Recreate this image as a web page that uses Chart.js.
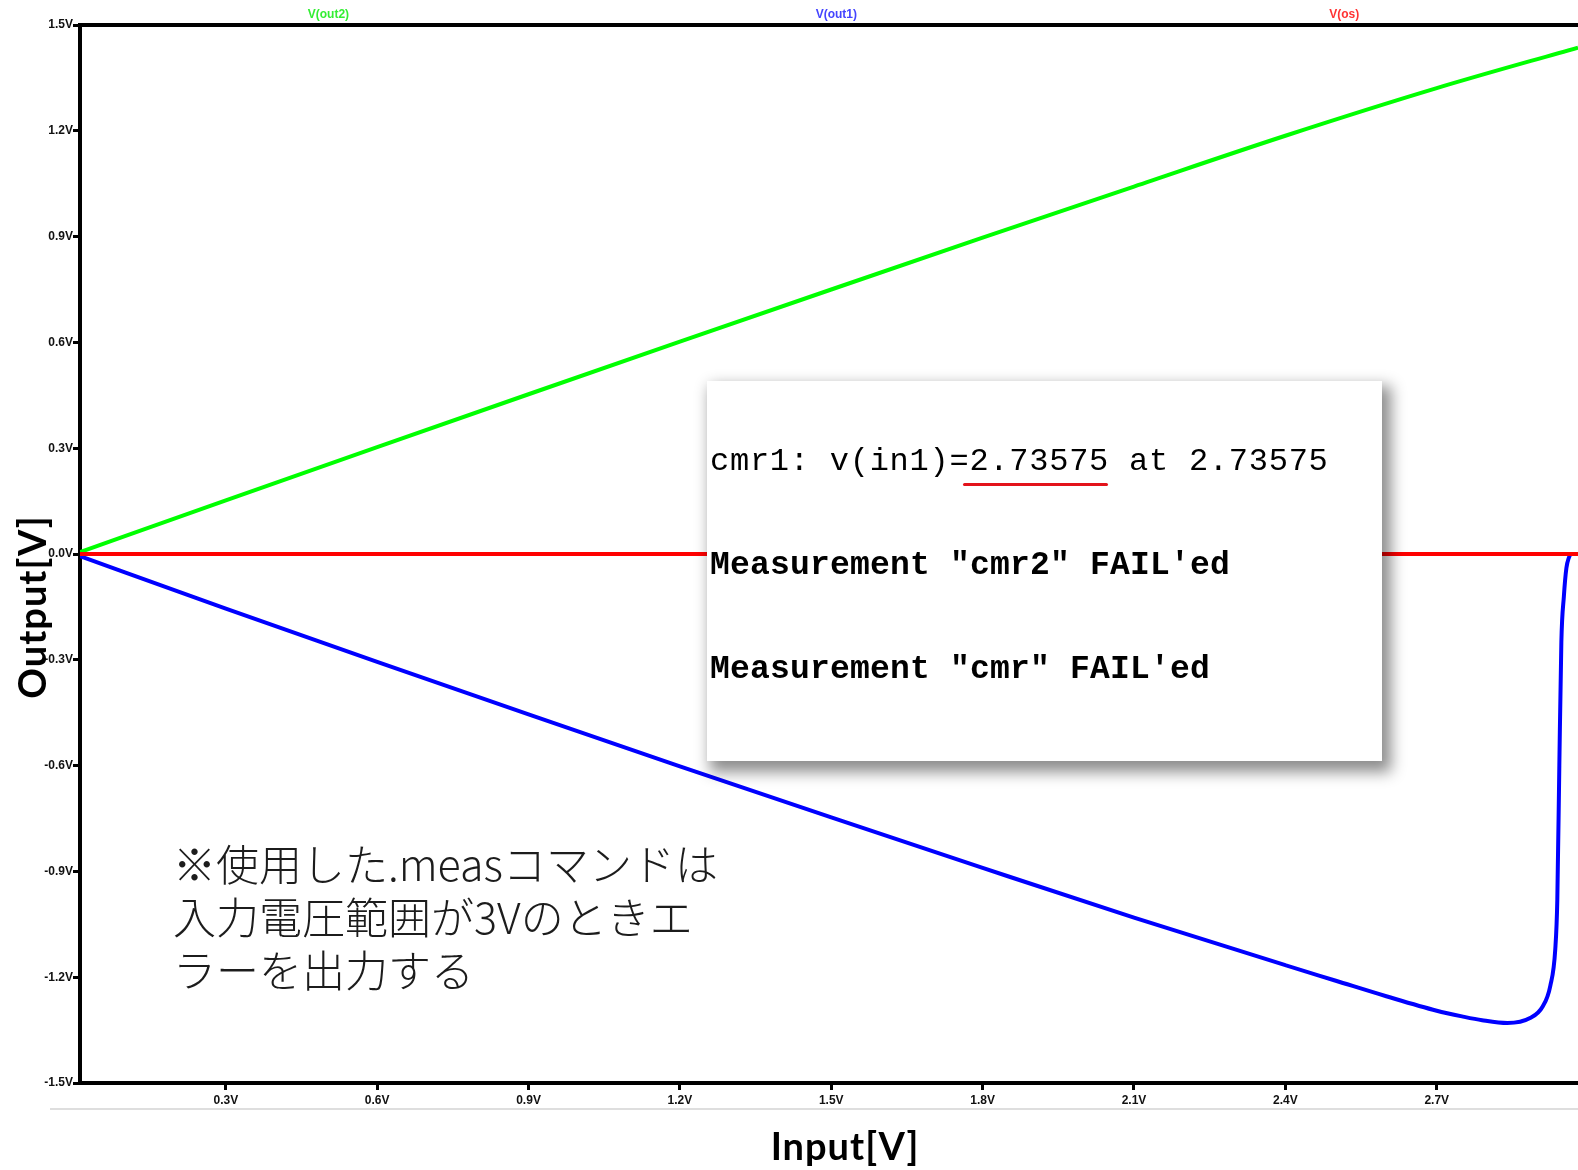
<!DOCTYPE html>
<html lang="ja">
<head>
<meta charset="utf-8">
<title>cmr .meas result</title>
<script src="https://cdn.jsdelivr.net/npm/chart.js@4.4.1/dist/chart.umd.min.js"></script>
<style>
  html, body { margin: 0; padding: 0; background: #fff; overflow: hidden; }
  #wrap { position: relative; width: 1578px; height: 1170px; }
  #plot { position: absolute; left: 0; top: 0; }
  .rule { position: absolute; left: 50px; top: 1108px; width: 1528px; height: 2px; background: #dedede; }
  .title { position: absolute; font-family: Lato, 'Open Sans', sans-serif; font-weight: 700; font-size: 38px;
           letter-spacing: 1px; color: #000; text-align: center; line-height: 50px; white-space: nowrap; }
  #xtitle { left: 695px; width: 300px; top: 1120px; }
  #ytitle { left: -119px; width: 300px; top: 582px; transform: rotate(-90deg); }
  #meas { position: absolute; left: 707px; top: 381px; width: 675px; height: 380px; background: #fff;
          box-shadow: 6px 8px 14px 3px rgba(0,0,0,0.45); }
  .ml { position: absolute; left: 3px; font-family: 'Liberation Mono', 'DejaVu Sans Mono', monospace;
        color: #000; white-space: nowrap; line-height: 32px; }
  .l1 { top: 65px; font-size: 32px; letter-spacing: 0.75px; }
  .l2 { top: 169px; font-size: 33px; font-weight: 700; letter-spacing: 0.2px; }
  .l3 { top: 273px; font-size: 33px; font-weight: 700; letter-spacing: 0.2px; }
  .uline { position: absolute; left: 256px; top: 102px; width: 145px; height: 3px; border-radius: 2px; background: #e3131b; }
  #note { position: absolute; left: 173px; top: 836px; font-family: 'Noto Sans CJK JP', sans-serif; font-weight: 300;
          font-size: 43px; line-height: 53px; color: #1c1c1c; white-space: nowrap; }
</style>
</head>
<body>
<div id="wrap">
  <canvas id="plot" width="1578" height="1170"></canvas>
  <div class="rule"></div>
  <div class="title" id="xtitle">Input[V]</div>
  <div class="title" id="ytitle">Output[V]</div>
  <div id="meas">
    <div class="ml l1">cmr1: v(in1)=2.73575 at 2.73575</div>
    <div class="uline"></div>
    <div class="ml l2">Measurement "cmr2" FAIL'ed</div>
    <div class="ml l3">Measurement "cmr" FAIL'ed</div>
  </div>
  <div id="note">※使用した.measコマンドは<br>入力電圧範囲が3Vのときエ<br>ラーを出力する</div>
</div>
<script>
// DC sweep of the input, LTspice style plot
const traceNames = ['V(out2)', 'V(out1)', 'V(os)'];
const lineColors = ['#00ff00', '#0000ff', '#ff0000'];
const labelColors = ['#33ee33', '#4444ff', '#ff3333'];

const xTicks = [0.3, 0.6, 0.9, 1.2, 1.5, 1.8, 2.1, 2.4, 2.7];
const yTicks = [-1.5, -1.2, -0.9, -0.6, -0.3, 0, 0.3, 0.6, 0.9, 1.2, 1.5];
const xMin = 0.011, xMax = 2.98, sweepEnd = 3.02;

const out2X = [0, 0.3, 0.6, 0.9, 1.2, 1.5, 1.8, 2.1, 2.4, 2.7, 2.98];
const out2Y = [0, 0.152, 0.303, 0.453, 0.602, 0.750, 0.897, 1.042, 1.186, 1.321, 1.436];

const out1X = [0, 0.3, 0.6, 0.9, 1.2, 1.5, 1.8, 2.1, 2.4, 2.5, 2.6, 2.7, 2.75, 2.79, 2.84, 2.885,
               2.91, 2.925, 2.935, 2.939, 2.943, 2.947, 2.952, 2.957, 2.962, 2.966, 2.98];
const out1Y = [0, -0.155, -0.306, -0.455, -0.602, -0.747, -0.890, -1.031, -1.166, -1.210, -1.254, -1.295, -1.311, -1.322, -1.330, -1.316,
               -1.283, -1.225, -1.12, -0.98, -0.6, -0.25, -0.12, -0.04, -0.01, 0, 0];

const osX = [0, 2.98];
const osY = [0, 0];

const tickFont = { family: "'Liberation Sans Narrow', 'Arial Narrow', 'Liberation Sans', Arial, sans-serif", size: 12, weight: 'bold' };

const pts = (xs, ys) => xs.map((x, i) => ({ x, y: ys[i] }));
const series = [pts(out2X, out2Y), pts(out1X, out1Y), pts(osX, osY)];

const traceLabels = {
  id: 'traceLabels',
  afterDraw(chart) {
    const { ctx } = chart;
    const xs = chart.scales.x;
    ctx.save();
    ctx.font = `${tickFont.weight} ${tickFont.size}px ${tickFont.family}`;
    ctx.textAlign = 'center';
    ctx.textBaseline = 'middle';
    traceNames.forEach((name, i) => {
      ctx.fillStyle = labelColors[i];
      ctx.fillText(name, xs.getPixelForValue((i + 0.5) * sweepEnd / traceNames.length), chart.chartArea.top - 10);
    });
    ctx.restore();
  }
};

new Chart(document.getElementById('plot'), {
  type: 'line',
  data: {
    datasets: series.map((data, i) => ({
      label: traceNames[i],
      data,
      borderColor: lineColors[i],
      borderWidth: 4,
      pointRadius: 0,
      fill: false,
      cubicInterpolationMode: 'monotone',
      order: traceNames.length - i,
    }))
  },
  options: {
    responsive: false,
    animation: false,
    devicePixelRatio: 1,
    layout: { padding: 0 },
    plugins: { legend: { display: false }, tooltip: { enabled: false } },
    scales: {
      x: {
        type: 'linear', position: 'bottom', min: xMin, max: xMax,
        afterFit: s => { s.height = 87; },
        afterBuildTicks: s => { s.ticks = xTicks.map(v => ({ value: v })); },
        grid: { drawOnChartArea: false, tickLength: 7, tickWidth: 3, tickColor: '#000' },
        border: { color: '#000', width: 4 },
        ticks: { padding: 3, color: '#111', font: tickFont, maxRotation: 0, autoSkip: false, callback: v => v.toFixed(1) + 'V' }
      },
      xTop: {
        type: 'linear', position: 'top', min: 0, max: 1,
        afterFit: s => { s.height = 25; },
        grid: { display: false },
        border: { color: '#000', width: 4 },
        ticks: { display: false }
      },
      y: {
        type: 'linear', position: 'left', min: -1.5, max: 1.5,
        afterFit: s => { s.width = 80; },
        afterBuildTicks: s => { s.ticks = yTicks.map(v => ({ value: v })); },
        grid: { drawOnChartArea: false, tickLength: 7, tickWidth: 3, tickColor: '#000' },
        border: { color: '#000', width: 4 },
        ticks: { padding: 0, color: '#111', font: tickFont, autoSkip: false, callback: v => v.toFixed(1) + 'V' }
      }
    }
  },
  plugins: [traceLabels]
});
</script>
</body>
</html>
